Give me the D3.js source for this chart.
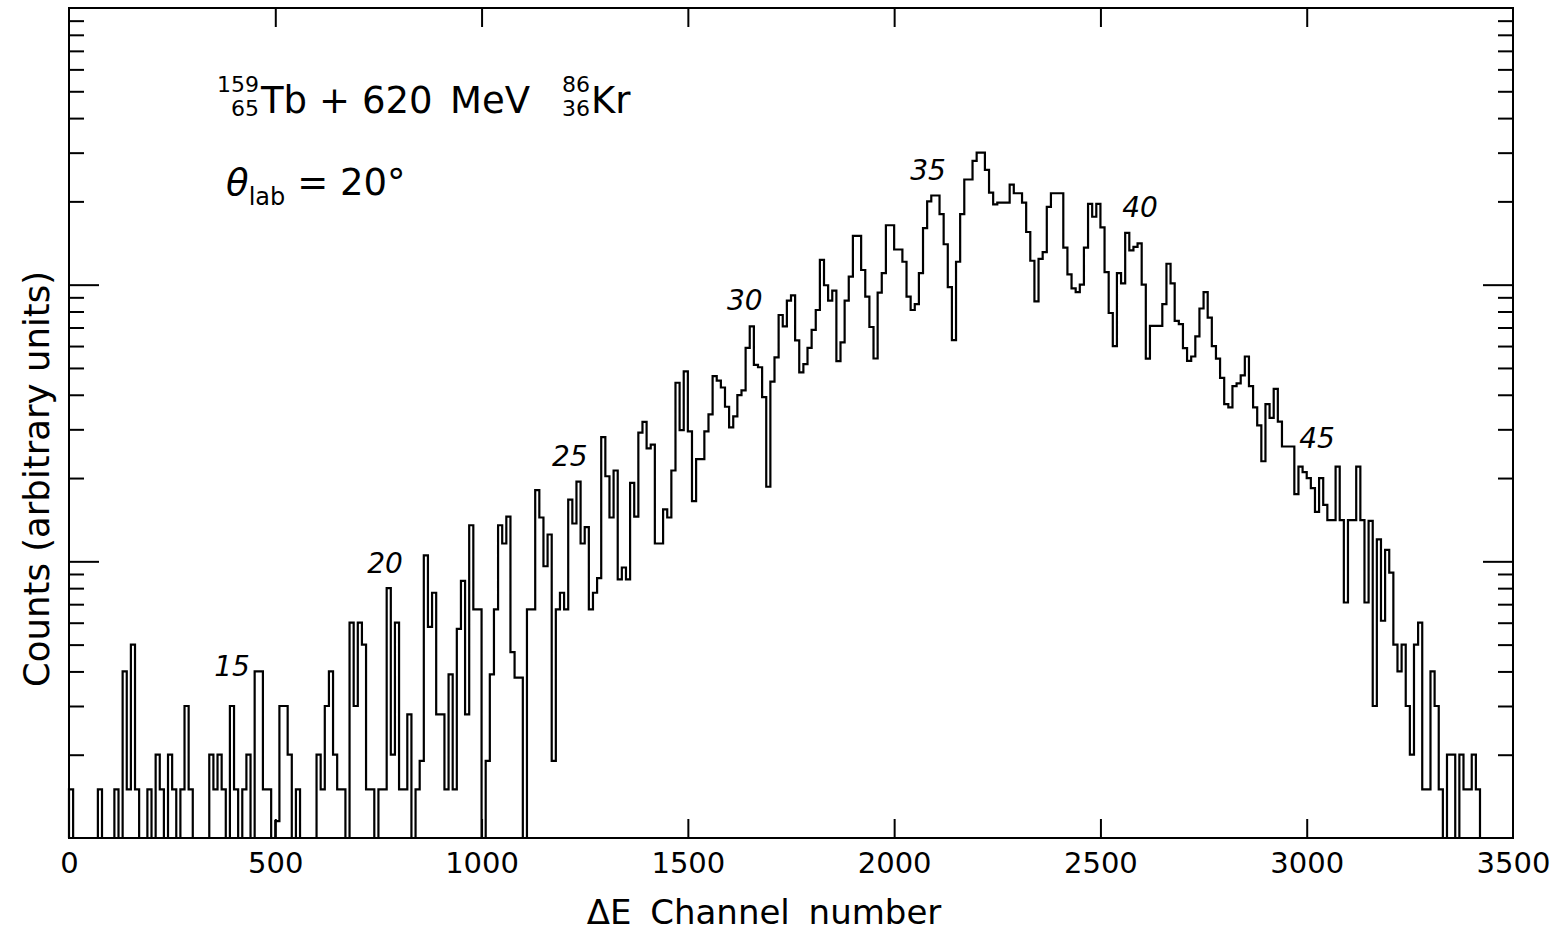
<!DOCTYPE html>
<html>
<head>
<meta charset="utf-8">
<script src="https://cdn.jsdelivr.net/npm/d3@7"></script>
<style>
  body { margin: 0; background: #fff; }
  svg { display: block; }
  text { font-family: "DejaVu Sans", sans-serif; fill: #000; }
</style>
</head>
<body>
<svg id="chart" width="1554" height="934"></svg>
<script>
// histogram: counts per bin of 10 ΔE channels, starting at channel 0
const binWidth = 10;
const counts = [
  1.5,0,0,0,0,0,0,1.5,0,0,
  0,1.5,0,4,1.5,5,1.5,0,0,1.5,
  0,2,1.5,0,2,1.5,0,1.5,3,1.5,
  0,0,0,0,2,1.5,2,1.5,0,3,
  1.5,0,1.5,2,0,4,4,1.5,1.5,0,
  1.15,3,3,2,0,1.5,0,0,0,0,
  2,1.5,3,4,2,1.5,1.5,0,6,3,
  6,5,1.5,1.5,0,1.5,1.5,8,2,6,
  1.5,1.5,2.8,0,1.5,1.9,10.5,5.8,7.7,2.8,
  2.8,1.5,3.9,1.5,5.7,8.5,2.8,13.5,6.7,6.7,
  0,1.9,3.9,6.7,13.5,11.6,14.5,4.7,3.8,3.8,
  0,6.7,6.7,18.1,14.4,9.6,12.5,1.9,6.7,7.7,
  6.7,16.7,13.7,19.4,11.6,13.3,6.7,7.7,8.7,28.1,
  20.3,14.4,21.3,8.6,9.5,8.6,19.2,14.5,29.2,31.9,
  25.6,26.4,11.6,11.6,15.4,14.4,21.3,44.2,29.8,48.6,
  29.5,16.5,23.4,23.4,29.5,34,46.7,45,42.5,36.2,
  30.5,33.4,39.9,41.5,59.1,70.7,51.3,50.3,39.2,18.6,
  44.6,54.6,77.7,70.7,87.6,91.4,62.9,48.2,51.6,59.1,
  68.6,81,123,99.5,87.6,95.2,52.9,61.9,87.6,107,
  150,150,113,90.6,70.3,54.1,93.6,110,164,164,
  134,134,121,90.6,81,85,110,160,200,210,
  210,180,140,98,63,121,180,240,240,280,
  300,300,260,215,195,198,198,198,230,214,
  214,198,155,122,87,124,131,191,214,214,
  214,136,109,97,94,100,136,196,176,196,
  161,111,79,60,110,101,154,133,137,141,
  100,54,71,71,71,85,119,101,74,72,
  59,53,55,65,82,94,76,60,54,46,
  37,36,43,44,47,55,43,36,31,23,
  37,33,42,32,26,26,26,17.5,22,21,
  20,18.4,15.1,20,16,14.1,14.1,22,14.1,7.1,
  14.1,14.1,22,14.1,7.1,14,3,12,6.1,11,
  9.1,5,4,5,3,2,5,6,1.5,1.5,
  4,3,1.5,0,2,2,0,2,1.5,1.5,2,1.5
];

const xTickValues = [0, 500, 1000, 1500, 2000, 2500, 3000, 3500];
const yMajorTicks = [10, 100];
const yMinorTicks = [2,3,4,5,6,7,8,9, 20,30,40,50,60,70,80,90, 200,300,400,500,600,700,800,900];

// charge labels on the peaks (Z, channel, counts)
const peakZ       = [15, 20, 25, 30, 35, 40, 45];
const peakChannel = [395, 766, 1214, 1638, 2082, 2596, 3025];
const peakCount   = [4.2, 9.9, 24, 88, 259, 191, 28];

const svg = d3.select("#chart");
const plotLeft = 69, plotRight = 1513, plotTop = 8, plotBottom = 838;

const x = d3.scaleLinear().domain([0, 3500]).range([plotLeft, plotRight]);
const y = d3.scaleLog().domain([1, 1000]).range([plotBottom, plotTop]);

// frame
svg.append("rect")
  .attr("x", plotLeft).attr("y", plotTop)
  .attr("width", plotRight - plotLeft).attr("height", plotBottom - plotTop)
  .attr("fill", "none").attr("stroke", "#000").attr("stroke-width", 2);

function styleTicks(g) {
  g.select(".domain").remove();
  g.selectAll("line").attr("stroke", "#000").attr("stroke-width", 2);
  g.selectAll("text").remove();
}

// x ticks, bottom and top, pointing inward
svg.append("g").attr("transform", `translate(0,${plotBottom})`)
  .call(d3.axisTop(x).tickValues(xTickValues.slice(1, -1)).tickSize(19))
  .call(styleTicks);
svg.append("g").attr("transform", `translate(0,${plotTop})`)
  .call(d3.axisBottom(x).tickValues(xTickValues.slice(1, -1)).tickSize(19))
  .call(styleTicks);

// x tick labels
svg.append("g").attr("transform", `translate(0,${plotBottom})`)
  .call(d3.axisBottom(x).tickValues(xTickValues).tickSize(0).tickPadding(14).tickFormat(d3.format("d")))
  .call(g => g.select(".domain").remove())
  .call(g => g.selectAll("text").attr("font-size", 29).attr("font-family", "DejaVu Sans").attr("fill", "#000"));

// log y ticks, left and right
svg.append("g").attr("transform", `translate(${plotLeft},0)`)
  .call(d3.axisRight(y).tickValues(yMajorTicks).tickSize(30)).call(styleTicks);
svg.append("g").attr("transform", `translate(${plotLeft},0)`)
  .call(d3.axisRight(y).tickValues(yMinorTicks).tickSize(15)).call(styleTicks);
svg.append("g").attr("transform", `translate(${plotRight},0)`)
  .call(d3.axisLeft(y).tickValues(yMajorTicks).tickSize(30)).call(styleTicks);
svg.append("g").attr("transform", `translate(${plotRight},0)`)
  .call(d3.axisLeft(y).tickValues(yMinorTicks).tickSize(15)).call(styleTicks);

// histogram as a step outline; empty bins sit on the bottom edge
const pts = [[0, 0]];
counts.forEach((c, i) => {
  pts.push([i * binWidth, c], [(i + 1) * binWidth, c]);
});
pts.push([counts.length * binWidth, 0]);

svg.append("path")
  .datum(pts)
  .attr("fill", "none")
  .attr("stroke", "#000")
  .attr("stroke-width", 2.2)
  .attr("stroke-linejoin", "miter")
  .attr("d", d3.line().x(d => x(d[0])).y(d => y(Math.max(d[1], 1))));

// peak labels
svg.selectAll("text.peak")
  .data(peakZ)
  .enter()
  .append("text")
  .attr("class", "peak")
  .attr("x", (d, i) => x(peakChannel[i]))
  .attr("y", (d, i) => y(peakCount[i]))
  .attr("dy", "0.36em")
  .attr("text-anchor", "middle")
  .attr("font-size", 28)
  .attr("font-style", "italic")
  .text(d => d);

// axis titles
svg.append("text")
  .attr("x", 764).attr("y", 924)
  .attr("text-anchor", "middle")
  .attr("font-size", 34)
  .attr("word-spacing", 8)
  .text("ΔE Channel number");

svg.append("text")
  .attr("transform", "translate(49,479) rotate(-90)")
  .attr("text-anchor", "middle")
  .attr("font-size", 35.5)
  .text("Counts (arbitrary units)");

// reaction label
const r = svg.append("g");
r.append("text").attr("x", 259).attr("y", 92).attr("text-anchor", "end").attr("font-size", 22).text("159");
r.append("text").attr("x", 259).attr("y", 116).attr("text-anchor", "end").attr("font-size", 22).text("65");
r.append("text").attr("x", 261).attr("y", 113).attr("font-size", 37).text("Tb");
r.append("text").attr("x", 319).attr("y", 113).attr("font-size", 37).text("+");
r.append("text").attr("x", 362).attr("y", 113).attr("font-size", 37).text("620");
r.append("text").attr("x", 450).attr("y", 113).attr("font-size", 37).text("MeV");
r.append("text").attr("x", 590).attr("y", 92).attr("text-anchor", "end").attr("font-size", 22).text("86");
r.append("text").attr("x", 590).attr("y", 116).attr("text-anchor", "end").attr("font-size", 22).text("36");
r.append("text").attr("x", 591).attr("y", 113).attr("font-size", 37).text("Kr");

const th = svg.append("text").attr("x", 226).attr("y", 195).attr("font-size", 37);
th.append("tspan").attr("font-style", "italic").text("θ");
th.append("tspan").attr("font-size", 24).attr("dy", 10).text("lab");
th.append("tspan").attr("dy", -10).attr("dx", 12).text("= 20°");
</script>
</body>
</html>
